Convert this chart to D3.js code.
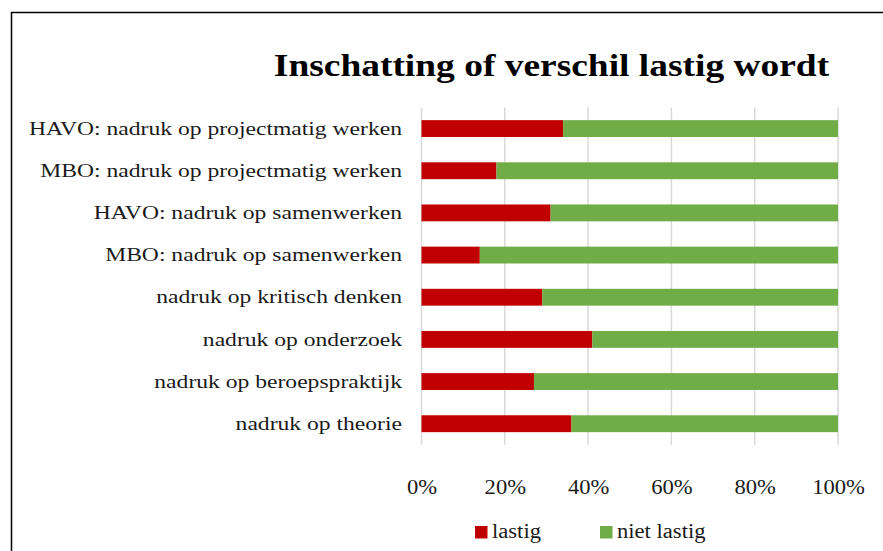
<!DOCTYPE html>
<html>
<head>
<meta charset="utf-8">
<script src="https://cdn.jsdelivr.net/npm/d3@7"></script>
<style>
  body { margin: 0; background: #fff; }
  svg { display: block; font-family: "Liberation Serif", "DejaVu Serif", serif; }
</style>
</head>
<body>
<svg id="chart" width="883" height="551"></svg>
<script>
// Categories top to bottom, and share (%) that finds the difference "lastig"
const categories = [
  'HAVO: nadruk op projectmatig werken',
  'MBO: nadruk op projectmatig werken',
  'HAVO: nadruk op samenwerken',
  'MBO: nadruk op samenwerken',
  'nadruk op kritisch denken',
  'nadruk op onderzoek',
  'nadruk op beroepspraktijk',
  'nadruk op theorie'
];
const lastig = [34, 18, 31, 14, 29, 41, 27, 36];
const nietLastig = [66, 82, 69, 86, 71, 59, 73, 64];
const xTicks = [0, 20, 40, 60, 80, 100];
const seriesNames = ['lastig', 'niet lastig'];
const colors = ['#c00000', '#70ad47'];

const svg = d3.select('#chart');

// Times-like font is narrower than the original Garamond, so stretch text a bit
function widen(sel, factor) {
  sel.each(function () {
    const len = this.getComputedTextLength();
    d3.select(this)
      .attr('textLength', len * factor)
      .attr('lengthAdjust', 'spacingAndGlyphs');
  });
}

// Outer frame (only left and top edges fall inside the picture)
svg.append('path')
  .attr('d', 'M11.5,560 V12.5 H883')
  .attr('fill', 'none').attr('stroke', '#000').attr('stroke-width', 1.5);

// Scales
const x = d3.scaleLinear().domain([0, 100]).range([421.5, 838]);
const y = d3.scaleBand()
  .domain(categories)
  .range([107.5, 444.8])
  .paddingInner(0.6)
  .paddingOuter(0.3);

// Gridlines
svg.append('g')
  .selectAll('line')
  .data(xTicks)
  .join('line')
  .attr('x1', d => x(d)).attr('x2', d => x(d))
  .attr('y1', 107.5).attr('y2', 444.8)
  .attr('stroke', '#d9d9d9').attr('stroke-width', 1.5);

// Stacked bars
const rows = categories.map((c, i) => ({ cat: c, vals: [lastig[i], nietLastig[i]] }));
rows.forEach(r => {
  let acc = 0;
  r.vals.forEach((v, j) => {
    svg.append('rect')
      .attr('x', x(acc))
      .attr('y', y(r.cat))
      .attr('width', x(acc + v) - x(acc))
      .attr('height', y.bandwidth())
      .attr('fill', colors[j]);
    acc += v;
  });
});

// X axis labels
const xAxis = svg.append('g')
  .attr('transform', 'translate(0,444.8)')
  .call(d3.axisBottom(x).tickValues(xTicks).tickFormat(d => d + '%').tickSize(0).tickPadding(35));
xAxis.select('.domain').remove();
xAxis.selectAll('text')
  .style('font-family', '"Liberation Serif", serif')
  .style('font-size', '20px')
  .attr('fill', '#1a1a1a')
  .call(widen, 1.13);

// Y axis labels
const yAxis = svg.append('g')
  .attr('transform', 'translate(402,0)')
  .call(d3.axisLeft(y).tickSize(0).tickPadding(0));
yAxis.select('.domain').remove();
yAxis.selectAll('text')
  .style('font-family', '"Liberation Serif", serif')
  .style('font-size', '19.5px')
  .attr('fill', '#1a1a1a')
  .call(widen, 1.21);

// Title
svg.append('text')
  .attr('x', 551.5)
  .attr('y', 76)
  .attr('text-anchor', 'middle')
  .style('font-size', '32px')
  .style('font-weight', 'bold')
  .attr('fill', '#000')
  .text('Inschatting of  verschil lastig wordt')
  .call(widen, 1.17);

// Legend
const legendX = [475, 600];
const legend = svg.append('g');
seriesNames.forEach((name, i) => {
  legend.append('rect')
    .attr('x', legendX[i]).attr('y', 526)
    .attr('width', 12.5).attr('height', 12.5)
    .attr('fill', colors[i]);
  legend.append('text')
    .attr('x', legendX[i] + 17).attr('y', 538)
    .style('font-size', '20px')
    .attr('fill', '#1a1a1a')
    .text(name)
    .call(widen, 1.13);
});
</script>
</body>
</html>
